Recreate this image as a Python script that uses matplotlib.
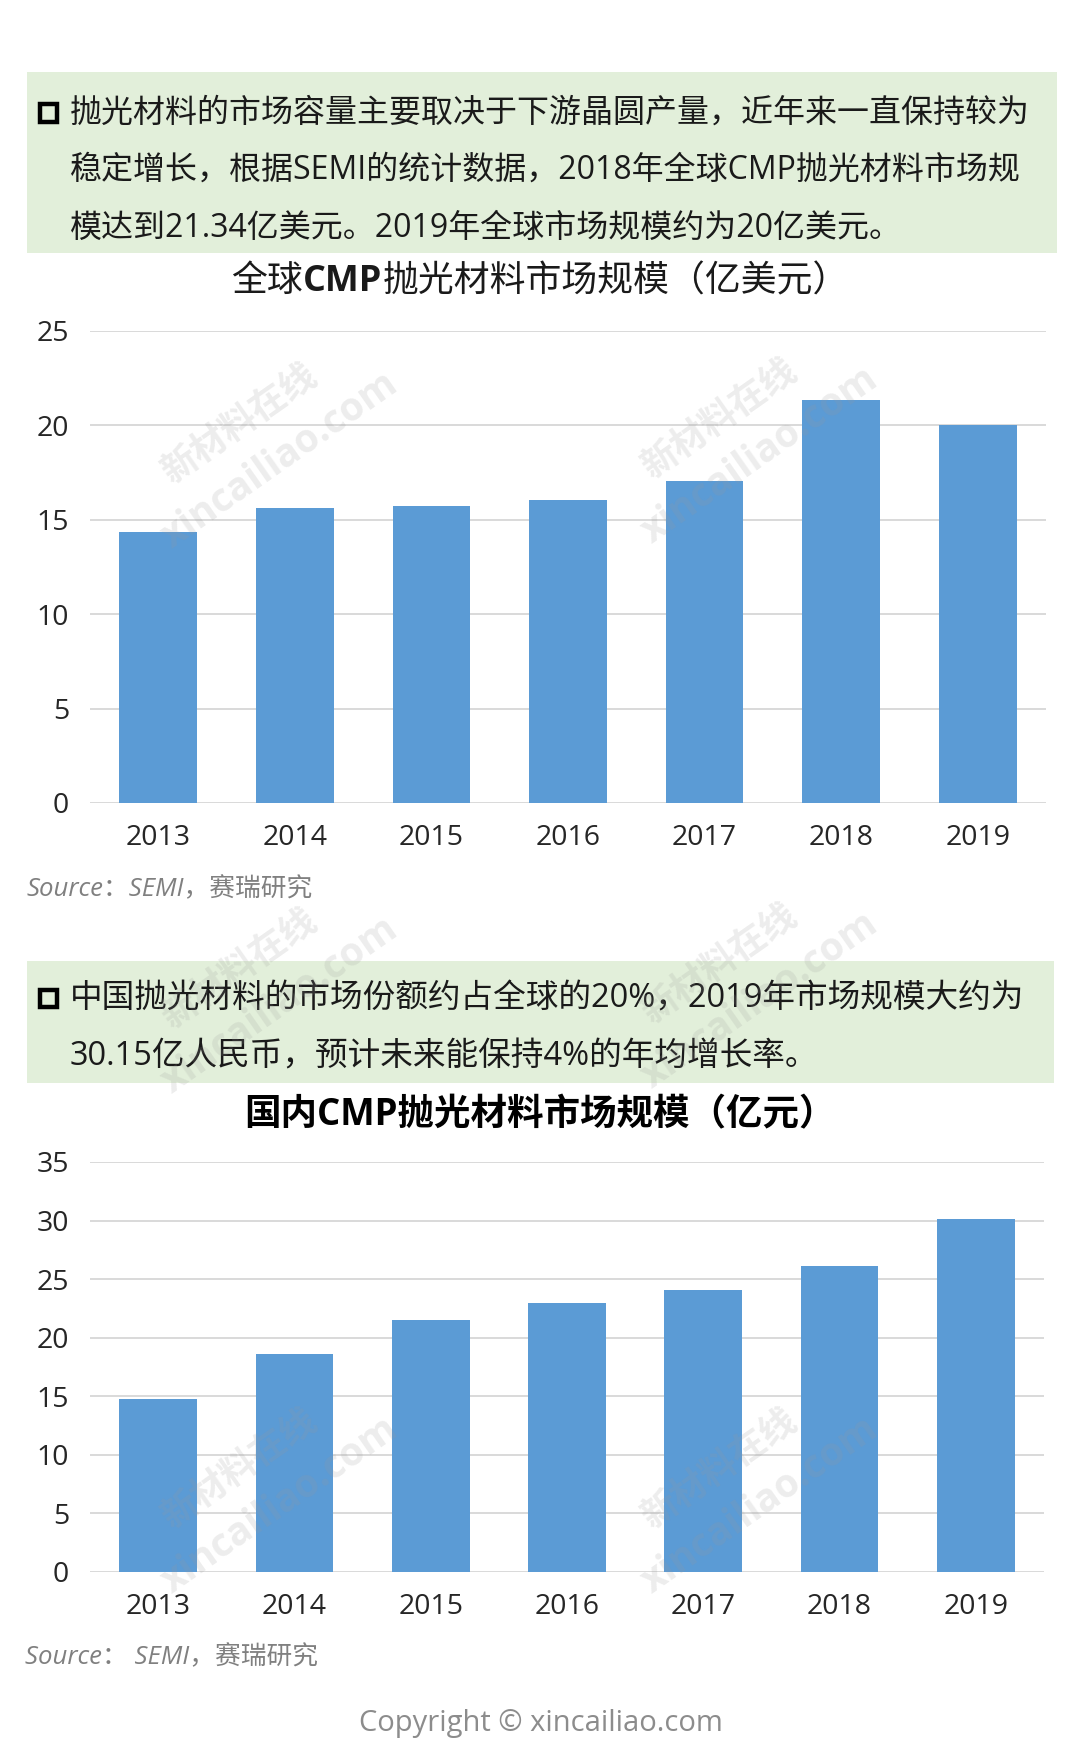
import matplotlib
matplotlib.use("Agg")
import matplotlib.pyplot as plt
from matplotlib.patches import Rectangle

plt.rcParams['font.family'] = ['Open Sans', 'Noto Sans CJK SC', 'DejaVu Sans']

# ---------------- data ----------------
years = ["2013", "2014", "2015", "2016", "2017", "2018", "2019"]
global_values = [14.37, 15.65, 15.75, 16.05, 17.08, 21.34, 20.0]
china_values = [14.8, 18.6, 21.5, 23.0, 24.1, 26.1, 30.15]
global_ticks = [0, 5, 10, 15, 20, 25]
china_ticks = [0, 5, 10, 15, 20, 25, 30, 35]

box1_lines = [
    "抛光材料的市场容量主要取决于下游晶圆产量，近年来一直保持较为",
    "稳定增长，根据SEMI的统计数据，2018年全球CMP抛光材料市场规",
    "模达到21.34亿美元。2019年全球市场规模约为20亿美元。",
]
box2_lines = [
    "中国抛光材料的市场份额约占全球的20%，2019年市场规模大约为",
    "30.15亿人民币，预计未来能保持4%的年均增长率。",
]
title1_parts = [("全球", "normal"), ("CMP", "bold"), ("抛光材料市场规模（亿美元）", "normal")]
title2 = "国内CMP抛光材料市场规模（亿元）"
source1 = "Source：SEMI，赛瑞研究"
source2 = "Source： SEMI，赛瑞研究"
copyright_text = "Copyright © xincailiao.com"

W, H = 1080, 1757
fig = plt.figure(figsize=(W / 100, H / 100), dpi=100)
fig.patch.set_facecolor("white")

BAR = "#5B9BD5"
GRID = "#D9D9D9"
GREEN = "#E2EFDA"
TXT = "#1A1A1A"


def fx(x):
    return x / W


def fy(y):
    return 1 - y / H


def green_box(x0, y0, x1, y1):
    fig.patches.append(Rectangle((fx(x0), fy(y1)), fx(x1 - x0), (y1 - y0) / H,
                                 transform=fig.transFigure, facecolor=GREEN,
                                 edgecolor="none", zorder=0))


def bullet(xc, yc, size=17):
    fig.patches.append(Rectangle((fx(xc - size / 2), fy(yc + size / 2)), size / W, size / H,
                                 transform=fig.transFigure, facecolor="none",
                                 edgecolor="black", linewidth=3.2, zorder=3))


# ---------- watermarks ----------
wm = [(250, 435), (730, 430), (250, 980), (730, 975), (250, 1480), (730, 1480)]
for (x, y) in wm:
    fig.text(fx(x - 10), fy(y - 10), "新材料在线", fontsize=26, color="#9a9a9a", alpha=0.18,
             rotation=35, ha="center", va="center", fontweight="bold", zorder=10)
    fig.text(fx(x + 30), fy(y + 25), "xincailiao.com", fontsize=28, color="#9a9a9a", alpha=0.18,
             rotation=35, ha="center", va="center", fontweight="bold", zorder=10)

# ---------- box 1 ----------
green_box(27, 72, 1057, 253)
bullet(48, 113)
for i, line in enumerate(box1_lines):
    fig.text(fx(70), fy(113 + i * 57.5), line, fontsize=23, color=TXT, ha="left", va="center")

# ---------- title 1 (mixed weight) ----------
renderer = fig.canvas.get_renderer()
tmp = []
widths = []
for s, w in title1_parts:
    t = fig.text(0, 0, s, fontsize=25.8, fontweight=w)
    widths.append(t.get_window_extent(renderer).width)
    tmp.append(t)
for t in tmp:
    t.remove()
total = sum(widths)
xstart = 540 - total / 2
for (s, w), wd in zip(title1_parts, widths):
    fig.text(fx(xstart), fy(282), s, fontsize=25.8, fontweight=w, color=TXT, ha="left", va="center")
    xstart += wd


def bar_axes(top, bottom, left, right, values, ticks):
    ax = fig.add_axes([fx(left), fy(bottom), fx(right - left), (bottom - top) / H])
    ax.set_facecolor("none")
    x = list(range(len(years)))
    ax.bar(x, values, width=0.57, color=BAR, zorder=3)
    ax.set_xlim(-0.5, len(years) - 0.5)
    ax.set_ylim(ticks[0], ticks[-1])
    ax.set_yticks(ticks)
    ax.set_xticks(x)
    ax.set_xticklabels(years)
    for s in ax.spines.values():
        s.set_visible(False)
    ax.grid(axis="y", color=GRID, linewidth=1.4, zorder=0)
    ax.tick_params(axis="both", length=0, labelsize=20.5, colors="#262626")
    ax.tick_params(axis="x", pad=15)
    ax.tick_params(axis="y", pad=15)
    return ax


bar_axes(331, 803, 90, 1046, global_values, global_ticks)
fig.text(fx(27), fy(890), source1, fontsize=18.5, style="italic", color="#808080", ha="left", va="center")

# ---------- box 2 ----------
green_box(27, 961, 1054, 1083)
bullet(48, 999)
for i, line in enumerate(box2_lines):
    fig.text(fx(70), fy(999 + i * 58), line, fontsize=23.5, color=TXT, ha="left", va="center")

fig.text(fx(540), fy(1115), title2, fontsize=26.3, fontweight="bold", color="black", ha="center", va="center")

bar_axes(1162, 1572, 90, 1044, china_values, china_ticks)
fig.text(fx(25), fy(1658), source2, fontsize=18.5, style="italic", color="#808080", ha="left", va="center")

fig.text(fx(541), fy(1724), copyright_text, fontsize=21, color="#8C8C8C", ha="center", va="center")

fig.savefig("out.png", dpi=100, facecolor="white")
